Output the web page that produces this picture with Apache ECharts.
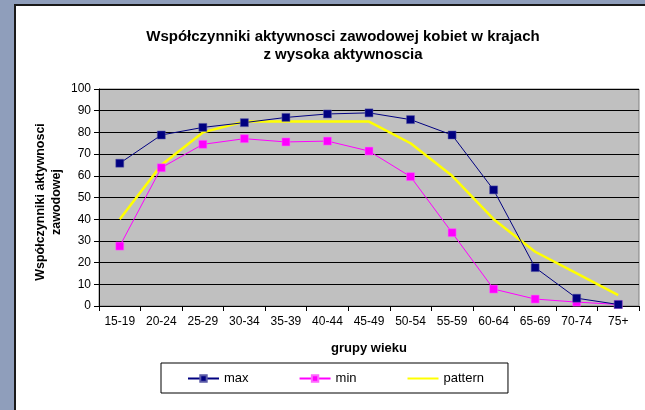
<html>
    <head>
        <meta charset="utf-8">
        <script src="https://cdn.jsdelivr.net/npm/echarts@6/dist/echarts.min.js"></script>
    </head>
    <body>
        <style>
            html, body, #main {
                width: 100%;
                height: 100%;
                margin: 0;
            }
        </style>
        <div id='main'></div>
        <script>
            // grupy wieku
            var categories = ['15-19', '20-24', '25-29', '30-34', '35-39', '40-44', '45-49',
                              '50-54', '55-59', '60-64', '65-69', '70-74', '75+'];
            var maxValues = [65.8, 78.8, 82.3, 84.5, 86.9, 88.5, 89, 85.9, 78.8, 53.5, 17.7, 3.6, 0.7];
            var minValues = [27.6, 63.7, 74.5, 77.1, 75.6, 76, 71.4, 59.6, 33.8, 7.8, 3.2, 1.8, 0.7];
            var patternValues = [40, 65, 80, 85, 85, 85, 85, 75, 60, 40, 25, 15, 5];

            var font = 'Liberation Sans, Arial, sans-serif';

            var chart = echarts.init(document.getElementById('main'));
            var option = {
                backgroundColor: '#8f9ebb',
                textStyle: { fontFamily: font },
                animation: false,
                graphic: [{
                    type: 'rect',
                    z: -10,
                    shape: { x: 15, y: 5, width: 640, height: 410 },
                    style: { fill: '#ffffff', stroke: '#1a1a1a', lineWidth: 2 }
                }],
                title: {
                    text: 'Współczynniki aktywnosci zawodowej kobiet w krajach\nz wysoka aktywnoscia',
                    left: 338,
                    top: 23,
                    textAlign: 'center',
                    textStyle: {
                        fontFamily: font,
                        fontSize: 15,
                        fontWeight: 'bold',
                        color: '#000',
                        lineHeight: 18
                    }
                },
                legend: {
                    left: 161,
                    top: 363,
                    padding: [9, 24, 8, 26],
                    itemGap: 50,
                    itemWidth: 31,
                    itemHeight: 8,
                    borderColor: '#000',
                    borderWidth: 1,
                    textStyle: { fontFamily: font, fontSize: 13, color: '#000' },
                    data: ['max', 'min', { name: 'pattern', itemStyle: { opacity: 0 } }]
                },
                grid: {
                    left: 99,
                    right: 6,
                    top: 89,
                    bottom: 104,
                    show: true,
                    backgroundColor: '#c0c0c0',
                    borderColor: '#808080',
                    borderWidth: 1
                },
                xAxis: {
                    type: 'category',
                    data: categories,
                    boundaryGap: true,
                    name: 'grupy wieku',
                    nameLocation: 'middle',
                    nameGap: 36,
                    nameTextStyle: { fontFamily: font, fontSize: 13, fontWeight: 'bold', color: '#000' },
                    axisLine: { lineStyle: { color: '#000', width: 1 } },
                    axisTick: { show: true, length: 5, lineStyle: { color: '#000' } },
                    axisLabel: { fontFamily: font, fontSize: 12, color: '#000', margin: 10, interval: 0 }
                },
                yAxis: {
                    type: 'value',
                    min: 0,
                    max: 100,
                    interval: 10,
                    name: 'Współczynniki aktywnosci\nzawodowej',
                    nameLocation: 'middle',
                    nameGap: 34,
                    nameMoveOverlap: false,
                    nameTextStyle: {
                        fontFamily: font, fontSize: 12.5, fontWeight: 'bold', color: '#000',
                        lineHeight: 16, padding: [0, 0, 0, -9]
                    },
                    axisLine: { show: true, lineStyle: { color: '#000', width: 1 } },
                    axisTick: { show: true, length: 5, lineStyle: { color: '#000' } },
                    axisLabel: { fontFamily: font, fontSize: 12, color: '#000', margin: 8 },
                    splitLine: { lineStyle: { color: '#000', width: 1 } }
                },
                series: [{
                    name: 'max',
                    type: 'line',
                    data: maxValues,
                    symbol: 'rect',
                    symbolSize: 8,
                    color: '#000080',
                    lineStyle: { width: 1, color: '#000080' },
                    itemStyle: { color: '#000080', borderColor: '#5a5aa8', borderWidth: 0.5 },
                    z: 4
                }, {
                    name: 'min',
                    type: 'line',
                    data: minValues,
                    symbol: 'rect',
                    symbolSize: 8,
                    color: '#ff00ff',
                    lineStyle: { width: 1, color: '#ff00ff' },
                    itemStyle: { color: '#ff00ff', borderColor: '#ff66ff', borderWidth: 0.5 },
                    z: 3
                }, {
                    name: 'pattern',
                    type: 'line',
                    data: patternValues,
                    symbol: 'none',
                    color: '#ffff00',
                    lineStyle: { width: 2.5, color: '#ffff00' },
                    z: 2
                }]
            };

            chart.setOption(option);

            window.onresize = chart.resize;
        </script>
    </body>
</html>
